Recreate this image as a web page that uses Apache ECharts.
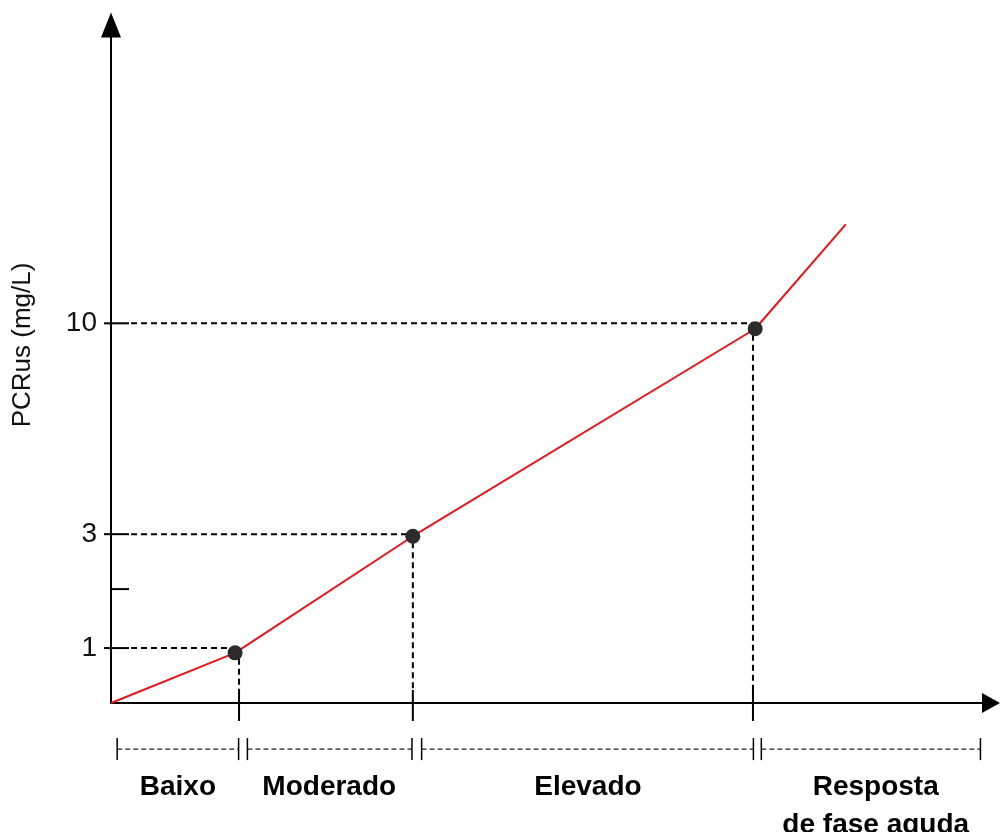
<!DOCTYPE html>
<html>
<head>
<meta charset="utf-8">
<script src="https://cdn.jsdelivr.net/npm/echarts@6/dist/echarts.min.js"></script>
<style>html,body{margin:0;padding:0;background:#fff}#c{width:1003px;height:832px}</style>
</head>
<body>
<div id="c"></div>
<script>
// Schematic (non-linear) diagram: values are in schematic axis units.
const yTickValues = [8.1, 16.8, 24.9, 56.0];
const yTickLabels = ['1', '', '3', '10'];
const curveX = [0, 14.1, 34.3, 73.2, 83.5];
const curveY = [0, 7.4, 24.6, 55.2, 70.6];
const markerX = [14.1, 34.3, 73.2];
const markerY = [7.4, 24.6, 55.2];
const markerLevel = [8.1, 24.9, 56.0];
const guideX = [14.55, 34.3, 72.95];
const categories = ['Baixo', 'Moderado', 'Elevado', 'Resposta\nde fase aguda'];
const rangeStart = [0.7, 15.5, 35.3, 73.9];
const rangeEnd = [14.5, 34.2, 73.0, 98.8];
const labelCenters = [7.6, 24.8, 54.2, 86.9];
const rangeLevel = -6.8;
const yName = 'PCRus (mg/L)';

const FONT = '"Liberation Sans", Arial, sans-serif';

const chart = echarts.init(document.getElementById('c'), null, {renderer: 'canvas'});

const labelOf = v => {
  const i = yTickValues.findIndex(t => Math.abs(t - v) < 1e-6);
  return i >= 0 ? yTickLabels[i] : '';
};

const option = {
  animation: false,
  backgroundColor: '#fff',
  grid: {left: 111, right: 12, top: 25, bottom: 129, containLabel: false, outerBoundsMode: 'none'},
  xAxis: {
    type: 'value', min: 0, max: 100,
    splitLine: {show: false},
    axisTick: {show: false},
    axisLine: {show: true, lineStyle: {color: '#000', width: 2}, symbol: ['none', 'triangle'], symbolSize: [20, 18]},
    axisLabel: {
      customValues: labelCenters,
      formatter: (v) => { const i = labelCenters.findIndex(c => Math.abs(c - v) < 1e-6); return i >= 0 ? categories[i] : ''; },
      margin: 65, fontFamily: FONT, fontSize: 28, fontWeight: 'bold', color: '#000', lineHeight: 38, align: 'center'
    }
  },
  yAxis: {
    type: 'value', min: 0, max: 100,
    splitLine: {show: false},
    axisTick: {show: false},
    axisLine: {show: true, lineStyle: {color: '#000', width: 2}, symbol: ['none', 'triangle'], symbolSize: [20, 25]},
    axisLabel: {
      customValues: yTickValues.filter((v, i) => yTickLabels[i] !== ''),
      formatter: labelOf,
      margin: 14, fontFamily: FONT, fontSize: 28, color: '#111'
    },
    name: yName, nameLocation: 'middle', nameRotate: 90, nameGap: 75,
    nameTextStyle: {fontFamily: FONT, fontSize: 26, color: '#111', padding: [0, 0, 0, 38]}
  },
  series: [
    {
      // y-axis ticks (crossing the axis)
      type: 'custom', clip: false, silent: true,
      data: yTickValues.map((v, i) => [0, v, yTickLabels[i] === '' ? 0 : 1]),
      renderItem: (params, api) => {
        const p = api.coord([api.value(0), api.value(1)]);
        const left = api.value(2) ? 7 : 0;
        return {type: 'line', shape: {x1: p[0] - left, y1: p[1], x2: p[0] + 18, y2: p[1]},
          style: {stroke: '#000', lineWidth: 2}};
      }
    },
    {
      // horizontal dashed guides from the axis to each marker
      type: 'custom', clip: false, silent: true,
      data: markerX.map((x, i) => [x, markerLevel[i]]),
      renderItem: (params, api) => {
        const p = api.coord([api.value(0), api.value(1)]);
        const a = api.coord([0, api.value(1)]);
        return {type: 'line', shape: {x1: a[0] + 20, y1: p[1], x2: p[0], y2: p[1]},
          style: {stroke: '#000', lineWidth: 2, lineDash: [6, 4]}};
      }
    },
    {
      // vertical dashed guides and solid ticks on x axis
      type: 'custom', clip: false, silent: true,
      data: guideX.map((x, i) => [x, markerY[i]]),
      renderItem: (params, api) => {
        const p = api.coord([api.value(0), api.value(1)]);
        const b = api.coord([api.value(0), 0]);
        return {type: 'group', children: [
          {type: 'line', shape: {x1: p[0], y1: p[1] + 6, x2: p[0], y2: b[1] - 13},
            style: {stroke: '#000', lineWidth: 2, lineDash: [6, 4]}},
          {type: 'line', shape: {x1: p[0], y1: b[1] - 13, x2: p[0], y2: b[1] + 18},
            style: {stroke: '#000', lineWidth: 2}}
        ]};
      }
    },
    {
      // range brackets below the x axis
      type: 'custom', clip: false, silent: true,
      data: rangeStart.map((s, i) => [s, rangeEnd[i], rangeLevel]),
      renderItem: (params, api) => {
        const a = api.coord([api.value(0), api.value(2)]);
        const b = api.coord([api.value(1), api.value(2)]);
        return {type: 'group', children: [
          {type: 'line', shape: {x1: a[0], y1: a[1], x2: b[0], y2: b[1]},
            style: {stroke: '#222', lineWidth: 1.3, lineDash: [5, 3]}},
          {type: 'line', shape: {x1: a[0], y1: a[1] - 11, x2: a[0], y2: a[1] + 11},
            style: {stroke: '#000', lineWidth: 1.5}},
          {type: 'line', shape: {x1: b[0], y1: b[1] - 11, x2: b[0], y2: b[1] + 11},
            style: {stroke: '#000', lineWidth: 1.5}}
        ]};
      }
    },
    {
      type: 'line', data: curveX.map((x, i) => [x, curveY[i]]),
      showSymbol: false, symbol: 'none', silent: true,
      lineStyle: {color: '#e8161b', width: 2}, z: 3
    },
    {
      type: 'scatter', data: markerX.map((x, i) => [x, markerY[i]]),
      symbolSize: 15, itemStyle: {color: '#2b2b2b', opacity: 1}, silent: true, z: 4
    }
  ]
};
chart.setOption(option);
</script>
</body>
</html>
